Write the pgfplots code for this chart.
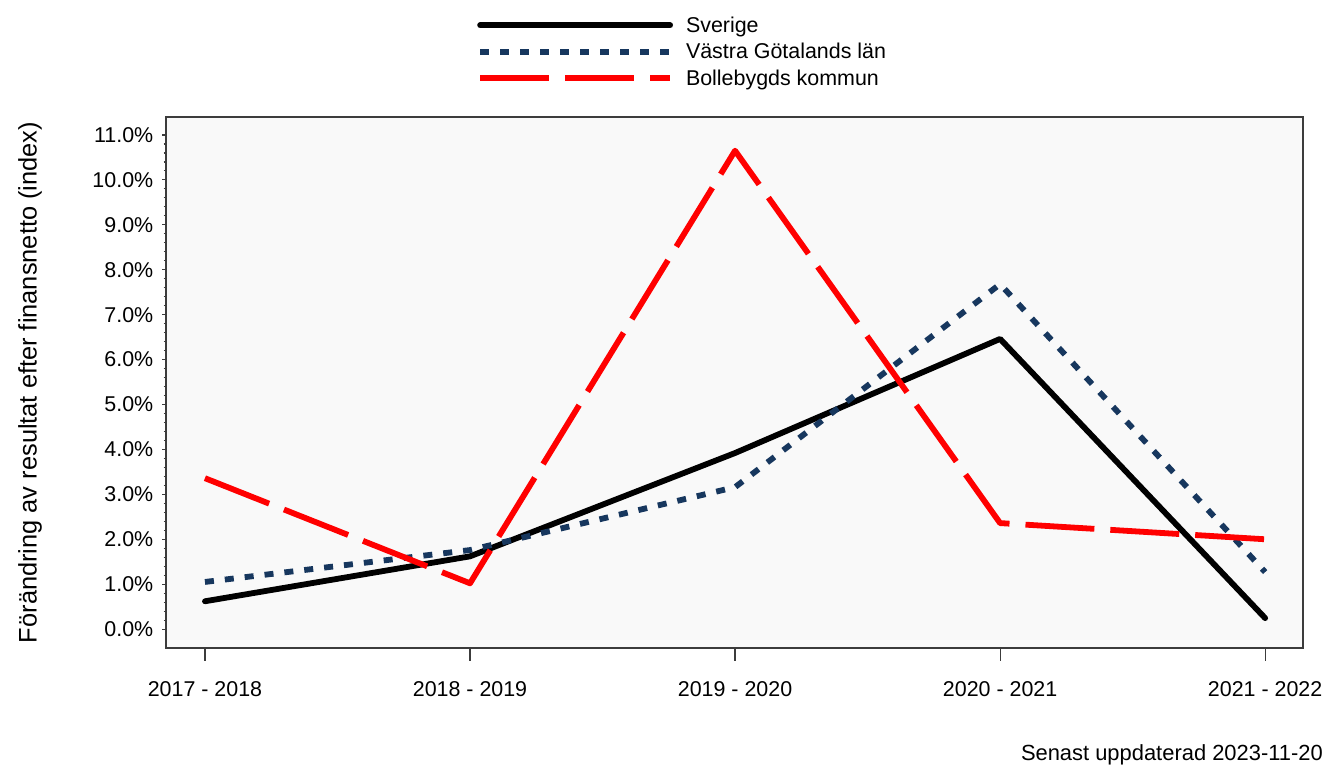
\documentclass[border=0pt]{standalone}
\usepackage{pgfplots}
\pgfplotsset{compat=1.18}
\usepackage{fontspec}
\setmainfont{Liberation Sans}
\definecolor{vgblue}{RGB}{23,55,94}
\definecolor{bgc}{RGB}{249,249,249}
\definecolor{axc}{RGB}{60,60,60}
\begin{document}
\begin{tikzpicture}[x=1bp,y=1bp,font=\fontsize{21.5}{26}\selectfont]
\path[use as bounding box] (0,0) rectangle (1331,765);
\begin{axis}[
  at={(166bp,117bp)}, anchor=south west,
  scale only axis, width=1137bp, height=531bp,
  xmin=-0.147, xmax=4.143, ymin=-0.42, ymax=11.40,
  axis background/.style={fill=bgc},
  axis line style={axc, line width=1.3bp},
  /pgf/number format/assume math mode=true,
  tick align=outside,
  xtick={0,1,2,3,4},
  xticklabels={2017 - 2018,2018 - 2019,2019 - 2020,2020 - 2021,2021 - 2022},
  xtick pos=bottom, ytick pos=left,
  xtick style={axc, line width=1.2bp, /pgfplots/major tick length=13bp},
  ytick style={axc, line width=1.2bp, /pgfplots/major tick length=4bp, /pgfplots/minor tick length=2.5bp},
  ytick={0,1,2,3,4,5,6,7,8,9,10,11},
  yticklabels={0.0\%,1.0\%,2.0\%,3.0\%,4.0\%,5.0\%,6.0\%,7.0\%,8.0\%,9.0\%,10.0\%,11.0\%},
  minor y tick num=4,
  xticklabel style={yshift=-26bp},
  yticklabel style={xshift=-5bp},
  ylabel={Förändring av resultat efter finansnetto (index)},
  ylabel style={at={(axis description cs:-0.1196,0.5)}, anchor=center, font=\fontsize{25.5}{30}\selectfont},
  legend style={at={(0.2709,1.0)}, anchor=south west, draw=none, fill=none,
    yshift=27bp, row sep=7.5bp, column sep=12bp, nodes={inner sep=1bp, anchor=west}},
  legend cell align=left,
  legend image code/.code={\draw[#1] (0bp,0bp) -- (190bp,0bp);},
]
\addplot[black, line width=5.8bp, line cap=round, line join=round] coordinates {
 (0,0.62) (1,1.62) (2,3.92) (3,6.46) (4,0.245)};
\addlegendentry{Sverige}
\addplot[vgblue, line width=5.8bp, dash pattern=on 9bp off 11bp, line join=round] coordinates {
 (0,1.05) (1,1.76) (2,3.16) (3,7.68) (4,1.27)};
\addlegendentry{Västra Götalands län}
\addplot[red, line width=5.8bp, dash pattern=on 69bp off 16bp, line join=round] coordinates {
 (0,3.36) (1,1.02) (2,10.65) (3,2.36) (4,2.0)};
\addlegendentry{Bollebygds kommun}
\end{axis}
\node[anchor=base east, inner sep=0, font=\fontsize{22}{26}\selectfont] at (1323,5) {Senast uppdaterad 2023-11-20};
\end{tikzpicture}
\end{document}
